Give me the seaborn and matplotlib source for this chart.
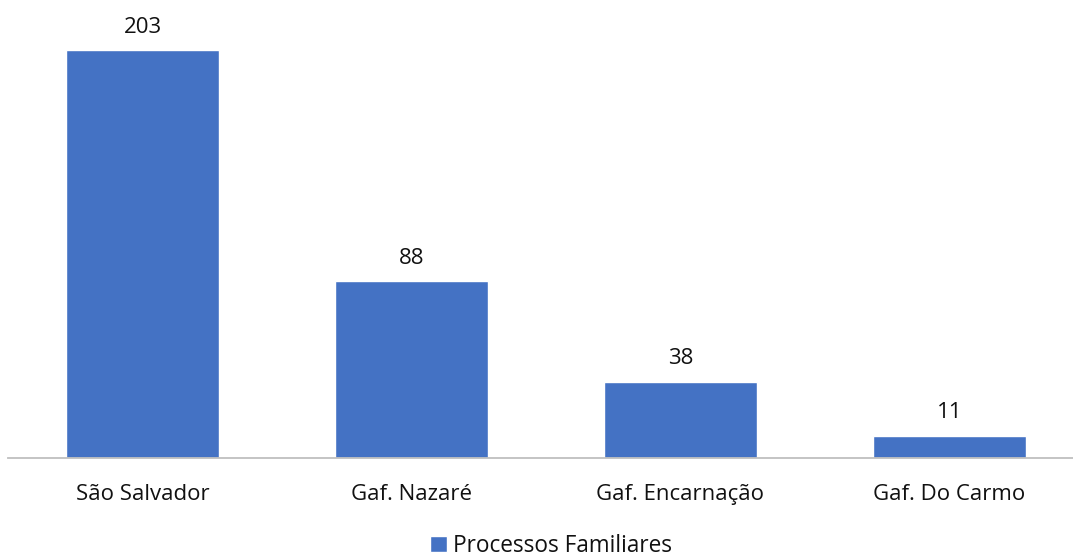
import numpy as np
import pandas as pd
import seaborn as sns
import matplotlib.pyplot as plt

# data
categories = ["São Salvador", "Gaf. Nazaré", "Gaf. Encarnação", "Gaf. Do Carmo"]
values = [203, 88, 38, 11]
series_name = "Processos Familiares"

df = pd.DataFrame({"local": categories, "processos": values})

sns.set_theme(style="white")
plt.rcParams["font.family"] = ["Open Sans", "DejaVu Sans"]

fig = plt.figure(figsize=(10.73, 5.58), dpi=100)
ax = fig.add_axes([8 / 1073, 100 / 558, 1076 / 1073, 452 / 558])

sns.barplot(data=df, x="local", y="processos", color="#4472C4",
            width=0.57, saturation=1, label=series_name, legend=False, ax=ax)
if ax.get_legend() is not None:
    ax.get_legend().remove()

# value labels above the bars
for i, v in enumerate(values):
    ax.annotate(str(v), (i, v), xytext=(0, 9), textcoords="offset points",
                ha="center", va="bottom", fontsize=16, color="#111111")

ax.set_ylim(0, 225)
ax.set_xlim(-0.5, 3.5)
ax.set_xlabel("")
ax.set_ylabel("")
ax.set_yticks([])
ax.tick_params(axis="x", labelsize=16, colors="#111111", length=0, pad=19)
for s in ["top", "right", "left"]:
    ax.spines[s].set_visible(False)
ax.spines["bottom"].set_color("#BFBFBF")
ax.spines["bottom"].set_linewidth(1.3)

handles, labels = ax.get_legend_handles_labels()
leg = fig.legend(handles[:1], labels[:1], loc="center",
                 bbox_to_anchor=(551 / 1073, 1 - 546 / 558),
                 frameon=False, fontsize=16.3, handlelength=0.75, handleheight=0.75,
                 handletextpad=0.25)
for t in leg.get_texts():
    t.set_color("#111111")

fig.savefig("out.png", dpi=100)
